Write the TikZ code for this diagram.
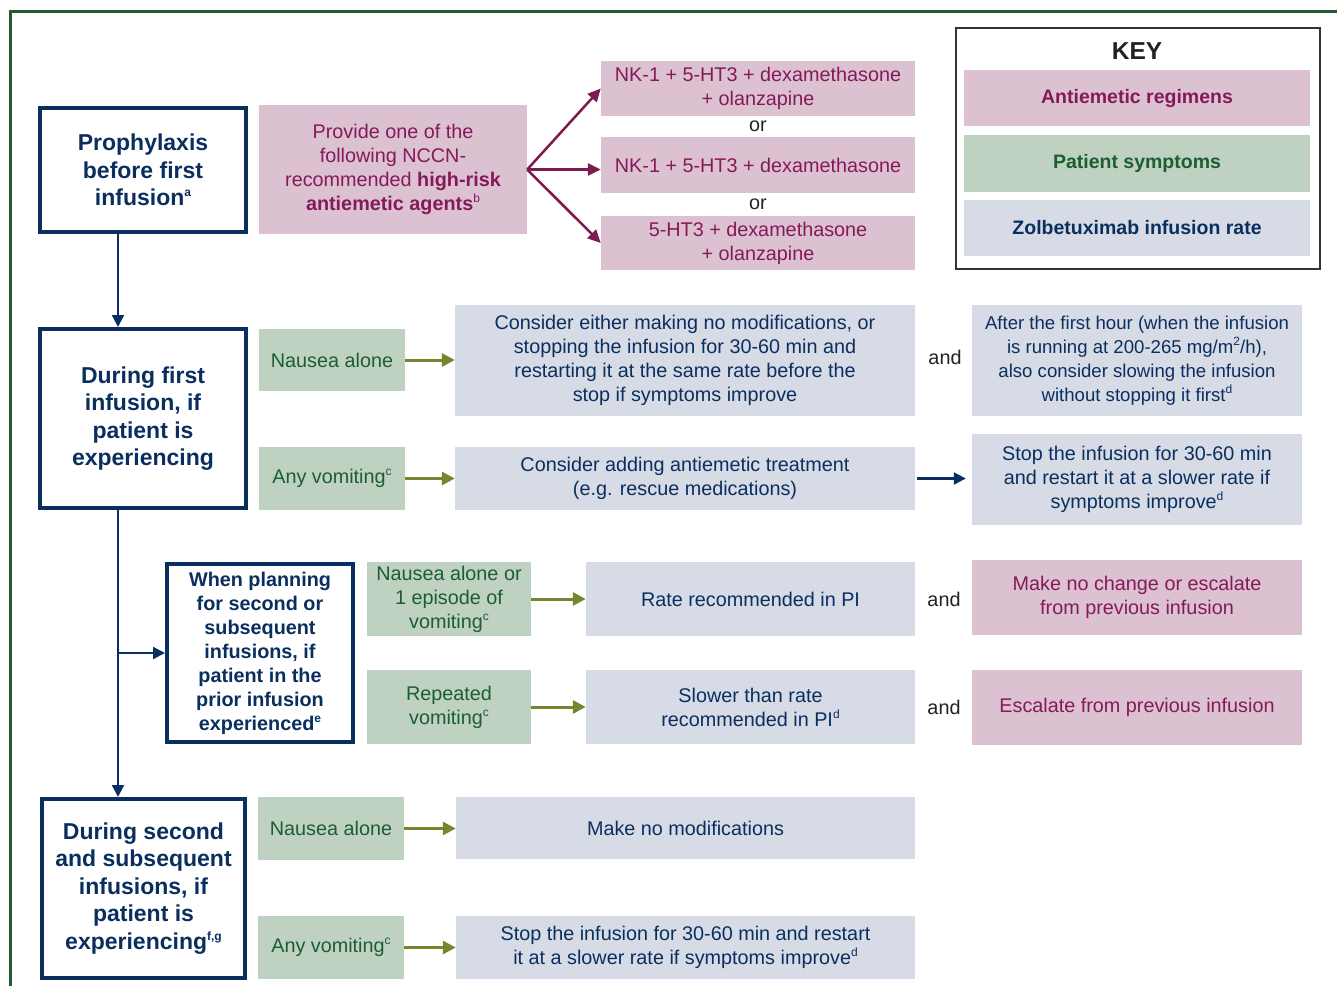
\documentclass[tikz,border=0pt]{standalone}
\usepackage{fontspec}
\setmainfont{Liberation Sans}
\usetikzlibrary{arrows.meta}
\definecolor{navy}{HTML}{0A2F5F}
\definecolor{pinkfill}{HTML}{DCC2D1}
\definecolor{pinktext}{HTML}{85195A}
\definecolor{greenfill}{HTML}{BFD2C2}
\definecolor{greentext}{HTML}{1B5E31}
\definecolor{bluefill}{HTML}{D7DBE6}
\definecolor{olive}{HTML}{76862F}
\definecolor{pinkarrow}{HTML}{7D1A4F}
\definecolor{framegreen}{HTML}{1E5B2E}
\definecolor{keygrey}{HTML}{333333}
\definecolor{conjgrey}{HTML}{222222}
\newcommand\supmark[1]{\raisebox{0.75ex}{\fontsize{12}{12}\selectfont #1}}
\begin{document}
\begin{tikzpicture}[x=1pt, y=-1pt,
  box/.style = {rectangle, inner sep=0pt, align=center, font=\fontsize{19.8}{24}\selectfont},
  title/.style = {box, draw=navy, line width=4pt, fill=white, text=navy, font=\bfseries\fontsize{23}{27.5}\selectfont},
  regimen/.style = {box, fill=pinkfill, text=pinktext},
  symptom/.style = {box, fill=greenfill, text=greentext},
  rate/.style = {box, fill=bluefill, text=navy},
  conj/.style = {inner sep=0pt, text=conjgrey, font=\fontsize{19.8}{24}\selectfont},
  keyentry/.style = {minimum width=346pt, font=\bfseries\fontsize{19.5}{24}\selectfont},
  navyflow/.style = {draw=navy, line width=2.2pt, -{Triangle[length=12pt,width=12pt]}},
  oliveflow/.style = {draw=olive, line width=3pt, -{Triangle[length=13pt,width=13pt]}},
  pinkflow/.style = {draw=pinkarrow, line width=2.5pt, -{Triangle[length=13pt,width=12pt]}}]
  \useasboundingbox (0,0) rectangle (1337,986);
  \draw[framegreen, line width=3pt] (10,986) -- (10,11) -- (1337,11);
  % stages
  \node[title, minimum width=206pt, minimum height=124pt] (pro) at (143,170) {Prophylaxis\\before first\\infusion\supmark{a}};
  \node[title, minimum width=206pt, minimum height=179pt] (first) at (143,418.5) {During first\\infusion, if\\patient is\\experiencing};
  \node[title, minimum width=186pt, minimum height=178pt, font=\bfseries\fontsize{19.8}{24}\selectfont] (plan) at (260,653) {When planning\\for second or\\subsequent\\infusions, if\\patient in the\\prior infusion\\experienced\supmark{e}};
  \node[title, minimum width=203pt, minimum height=179pt] (second) at (143.5,888.5) {During second\\and subsequent\\infusions, if\\patient is\\experiencing\supmark{f,g}};
  \coordinate (spine) at (118,0);
  \draw[navyflow] (pro.south -| spine) -- (first.north -| spine);
  \draw[navyflow] (first.south -| spine) -- (second.north -| spine);
  \draw[navyflow] (spine |- plan.west) -- (plan.west);
  % prophylaxis
  \node[regimen, minimum width=268pt, minimum height=129pt] (provide) at (393,169.5) {Provide one of the\\following NCCN-\\recommended \textbf{high-risk}\\\textbf{antiemetic agents}\supmark{b}};
  \node[regimen, minimum width=314pt, minimum height=55pt] (reg1) at (758,88.5) {NK-1 + 5-HT3 + dexamethasone\\+ olanzapine};
  \node[regimen, minimum width=314pt, minimum height=56pt] (reg2) at (758,165) {NK-1 + 5-HT3 + dexamethasone};
  \node[regimen, minimum width=314pt, minimum height=54pt] (reg3) at (758,243) {5-HT3 + dexamethasone\\+ olanzapine};
  \node[conj] (or1) at (758,126) {or};
  \node[conj] (or2) at (758,204) {or};
  \draw[pinkflow] (provide.east) -- (reg1.west);
  \draw[pinkflow] (provide.east) -- (provide.east -| reg2.west);
  \draw[pinkflow] (provide.east) -- (reg3.west);
  % key
  \node[draw=keygrey, line width=2pt, minimum width=364pt, minimum height=241pt, inner sep=0pt] (key) at (1138,148.5) {};
  \node[inner sep=0pt, text=conjgrey, font=\bfseries\fontsize{24.5}{28}\selectfont] (keytitle) at (1137,51) {KEY};
  \node[regimen, keyentry, minimum height=56pt] (keyreg) at (1137,98) {Antiemetic regimens};
  \node[symptom, keyentry, minimum height=57pt] (keysym) at (1137,163.5) {Patient symptoms};
  \node[rate, keyentry, minimum height=56pt] (keyrate) at (1137,228) {Zolbetuximab infusion rate};
  % first infusion
  \node[symptom, minimum width=146pt, minimum height=62pt] (n1) at (332,360) {Nausea alone};
  \node[rate, minimum width=460pt, minimum height=111pt] (c1) at (685,360.5) {Consider either making no modifications, or\\stopping the infusion for 30-60 min and\\restarting it at the same rate before the\\stop if symptoms improve};
  \node[rate, minimum width=330pt, minimum height=111pt, font=\fontsize{18.6}{24}\selectfont] (a1) at (1137,360.5) {After the first hour (when the infusion\\is running at 200-265 mg/m\supmark{2}/h),\\also consider slowing the infusion\\without stopping it first\supmark{d}};
  \node[conj] (and1) at (945,357) {and};
  \node[symptom, minimum width=146pt, minimum height=63pt] (v1) at (332,478.5) {Any vomiting\supmark{c}};
  \node[rate, minimum width=460pt, minimum height=63pt] (c2) at (685,478.5) {Consider adding antiemetic treatment\\(e.g. rescue medications)};
  \node[rate, minimum width=330pt, minimum height=91pt] (a2) at (1137,479.5) {Stop the infusion for 30-60 min\\and restart it at a slower rate if\\symptoms improve\supmark{d}};
  \draw[oliveflow] (n1.east) -- (c1.west |- n1.east);
  \draw[oliveflow] (v1.east) -- (c2.west);
  \draw[navyflow, shorten <=2pt, shorten >=6pt] (c2.east) -- (a2.west |- c2.east);
  % planning
  \node[symptom, minimum width=164pt, minimum height=74pt] (p1) at (449,599) {Nausea alone or\\1 episode of\\vomiting\supmark{c}};
  \node[rate, minimum width=329pt, minimum height=74pt] (pr1) at (750.5,599) {Rate recommended in PI};
  \node[regimen, minimum width=330pt, minimum height=75pt] (pe1) at (1137,597.5) {Make no change or escalate\\from previous infusion};
  \node[conj] (and2) at (944,599) {and};
  \node[symptom, minimum width=164pt, minimum height=74pt] (p2) at (449,707) {Repeated\\vomiting\supmark{c}};
  \node[rate, minimum width=329pt, minimum height=74pt] (pr2) at (750.5,707) {Slower than rate\\recommended in PI\supmark{d}};
  \node[regimen, minimum width=330pt, minimum height=75pt] (pe2) at (1137,707.5) {Escalate from previous infusion};
  \node[conj] (and3) at (944,707) {and};
  \draw[oliveflow] (p1.east) -- (pr1.west);
  \draw[oliveflow] (p2.east) -- (pr2.west);
  % second infusion
  \node[symptom, minimum width=146pt, minimum height=63pt] (s1) at (331,828.5) {Nausea alone};
  \node[rate, minimum width=459pt, minimum height=62pt] (sr1) at (685.5,828) {Make no modifications};
  \node[symptom, minimum width=146pt, minimum height=63pt] (s2) at (331,947.5) {Any vomiting\supmark{c}};
  \node[rate, minimum width=459pt, minimum height=63pt] (sr2) at (685.5,947.5) {Stop the infusion for 30-60 min and restart\\it at a slower rate if symptoms improve\supmark{d}};
  \draw[oliveflow] (s1.east) -- (sr1.west |- s1.east);
  \draw[oliveflow] (s2.east) -- (sr2.west);
\end{tikzpicture}
\end{document}
